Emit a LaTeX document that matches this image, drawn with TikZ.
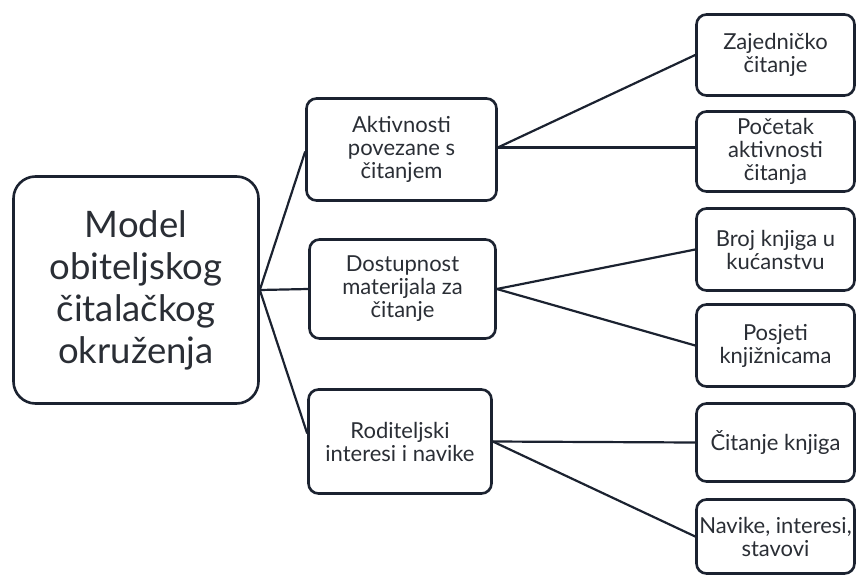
\documentclass[tikz,border=0pt]{standalone}
\usepackage{fontspec}
\setmainfont{Lato}
\usetikzlibrary{calc}
\definecolor{edge}{HTML}{1B2230}
\definecolor{txt}{HTML}{2A2E35}
\begin{document}
\begin{tikzpicture}[x=1pt,y=-1pt,
  box/.style={draw=edge, line width=2.6pt, fill=white, rounded corners=10pt, align=center, text=txt, inner sep=0pt, font=\fontsize{22}{23}\selectfont},
  mainbox/.style={box, rounded corners=22pt, font=\fontsize{36.5}{42}\selectfont},
  conn/.style={draw=edge, line width=2.2pt}]
\useasboundingbox (0,0) rectangle (859,578);
\node[mainbox, minimum width=245pt, minimum height=227pt] (main) at (136,290) {Model\\obiteljskog\\čitalačkog\\okruženja};
\node[box, minimum width=190pt, minimum height=102pt] (m1) at (401.5,149.5) {Aktivnosti\\povezane s\\čitanjem};
\node[box, minimum width=186pt, minimum height=99pt] (m2) at (402.5,289) {Dostupnost\\materijala za\\čitanje};
\node[box, minimum width=183pt, minimum height=104pt] (m3) at (400,441.5) {Roditeljski\\interesi i navike};
\node[box, minimum width=158pt, minimum height=81pt] (r1) at (775.5,55) {Zajedničko\\čitanje};
\node[box, minimum width=158pt, minimum height=80pt] (r2) at (775.5,151.5) {Početak\\aktivnosti\\čitanja};
\node[box, minimum width=158pt, minimum height=82pt] (r3) at (775.5,249.5) {Broj knjiga u\\kućanstvu};
\node[box, minimum width=158pt, minimum height=82pt] (r4) at (775.5,345.5) {Posjeti\\knjižnicama};
\node[box, minimum width=158pt, minimum height=78pt] (r5) at (775.5,442.5) {Čitanje knjiga};
\node[box, minimum width=158pt, minimum height=74pt] (r6) at (775.5,536.5) {Navike, interesi,\\stavovi};
\coordinate (m3in) at ($(m3.west)+(0,-8)$);
\coordinate (m1out) at ($(m1.east)+(0,-2)$);
\draw[conn] (main.east) -- ($(m1.west)+(0,2)$);
\draw[conn] (main.east) -- (m2.west);
\draw[conn] (main.east) -- (m3in);
\draw[conn] (m1out) -- (r1.west);
\draw[conn] (m1out) -- (m1out -| r2.west);
\draw[conn] (m2.east) -- (r3.west);
\draw[conn] (m2.east) -- (r4.west);
\draw[conn] (m3.east) -- (r5.west);
\draw[conn] (m3.east) -- (r6.west);
\end{tikzpicture}
\end{document}
